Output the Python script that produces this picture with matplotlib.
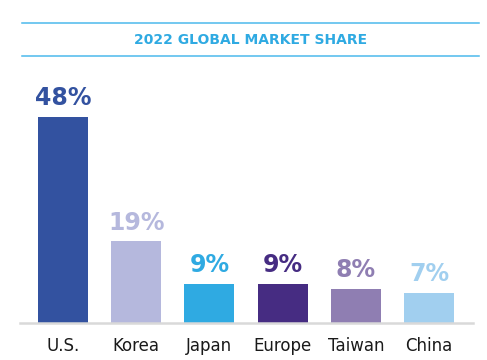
import matplotlib
matplotlib.use("Agg")
import matplotlib.pyplot as plt
from matplotlib.lines import Line2D

# data
regions = ["U.S.", "Korea", "Japan", "Europe", "Taiwan", "China"]
share = [48, 19, 9, 9, 8, 7]
share_labels = ["48%", "19%", "9%", "9%", "8%", "7%"]
colors = ["#3352A0", "#B5B8DD", "#2FAAE2", "#462C82", "#8F7EB2", "#A1CFEF"]

title_color = "#2FAAE2"
rule_color = "#4BB9EC"

W, H = 487, 360
fig = plt.figure(figsize=(W / 100, H / 100), dpi=100)

# axes placed in pixel space: baseline at y=323, from x=20 to 473
ax = fig.add_axes([20 / W, 1 - 323 / H, (473 - 20) / W, (323 - 80) / H])
x = list(range(len(regions)))
ax.bar(x, share, width=0.683, color=colors)
ax.set_xlim(-0.587, 5.6)
ax.set_ylim(0, 48 * (323 - 80) / 206)

for xi, v, lab, c in zip(x, share, share_labels, colors):
    ax.annotate(lab, (xi, v), xytext=(0, 5), textcoords="offset points",
                ha="center", va="bottom", color=c, fontsize=17,
                fontweight="bold")

ax.set_xticks(x)
ax.set_xticklabels(regions, fontsize=12, color="#1a1a1a")
ax.tick_params(axis="x", length=0, pad=10)
ax.set_yticks([])
for s in ["top", "right", "left"]:
    ax.spines[s].set_visible(False)
ax.spines["bottom"].set_color("#D9D9D9")
ax.spines["bottom"].set_linewidth(1.8)

# title with rules above and below
fig.add_artist(Line2D([22 / W, 479 / W], [1 - 23.3 / H] * 2,
                      color=rule_color, lw=1.1))
fig.add_artist(Line2D([22 / W, 479 / W], [1 - 56.3 / H] * 2,
                      color=rule_color, lw=1.1))
fig.text(251 / W, 1 - 40 / H, "2022 GLOBAL MARKET SHARE", ha="center",
         va="center", color=title_color, fontsize=10, fontweight="bold")

fig.savefig("out.png", dpi=100)
